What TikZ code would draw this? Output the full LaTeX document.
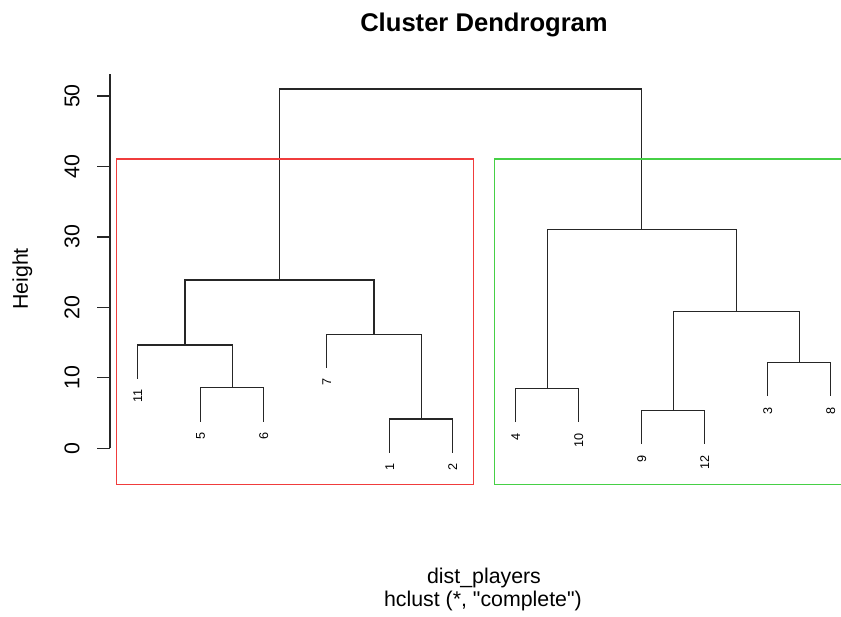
\documentclass[tikz,border=0pt]{standalone}
\usepackage{fontspec}
\setmainfont{Liberation Sans}[Ligatures=TeXOff]
\usepackage{xcolor}
\usepackage{tikz}
\usetikzlibrary{positioning}

\definecolor{boxred}{RGB}{240,60,60}
\definecolor{boxgreen}{RGB}{70,208,70}

\begin{document}
\begin{tikzpicture}[
    x=47.25pt, y=5.2845pt,
    link/.style={draw=black!85, line width=0.9pt},
    axisline/.style={draw=black!85, line width=0.9pt},
    leaf/.style={rotate=90, anchor=east, inner sep=1pt, font=\fontsize{9.5}{11}\selectfont},
    ticklab/.style={rotate=90, font=\fontsize{16}{19}\selectfont},
    lab/.style={anchor=base, font=\fontsize{16}{19}\selectfont},
    redbox/.style={draw=boxred, line width=1.1pt},
    greenbox/.style={draw=boxgreen, line width=1.1pt}
]
    \useasboundingbox (-1.1857,-23.801) rectangle (12.1635,63.625);

    % leaves: label / end height
    \foreach \lab/\h [count=\i] in {11/9.86, 5/3.8, 6/3.8, 7/11.4, 1/-0.64, 2/-0.64,
                                    4/3.7, 10/3.7, 9/0.6, 12/0.6, 3/7.4, 8/7.4} {
        \coordinate (l\lab) at (\i,\h);
        \node[leaf] (n\lab) at ([yshift=-7pt]l\lab) {\lab};
    }

    % merges
    \coordinate (c56)  at (2.5,8.6);
    \coordinate (c11)  at (1.75,14.66);
    \coordinate (c12)  at (5.5,4.16);
    \coordinate (c7)   at (4.75,16.2);
    \coordinate (cL)   at (3.25,23.9);
    \coordinate (c410) at (7.5,8.5);
    \coordinate (c912) at (9.5,5.4);
    \coordinate (c38)  at (11.5,12.2);
    \coordinate (c9)   at (10.5,19.4);
    \coordinate (cR)   at (9,31.1);
    \coordinate (root) at (6.125,51.0);

    \draw[link] (l5) |- (c56) -| (l6);
    \draw[link] (l11) |- (c11) -| (c56);
    \draw[link] (l1) |- (c12) -| (l2);
    \draw[link] (l7) |- (c7) -| (c12);
    \draw[link] (c11) |- (cL) -| (c7);
    \draw[link] (l4) |- (c410) -| (l10);
    \draw[link] (l9) |- (c912) -| (l12);
    \draw[link] (l3) |- (c38) -| (l8);
    \draw[link] (c912) |- (c9) -| (c38);
    \draw[link] (c410) |- (cR) -| (c9);
    \draw[link] (cL) |- (root) -| (cR);

    % cluster boxes
    \draw[redbox] (0.66,-5.17) rectangle (6.33,41.05);
    \draw[greenbox] (12.17,41.05) -- (6.66,41.05) -- (6.66,-5.17) -- (12.17,-5.17);

    % axis
    \draw[axisline] (0.56,0) -- (0.56,53.1);
    \foreach \v in {0,10,...,50} {
        \draw[axisline] (0.56,\v) -- (0.349,\v);
        \node[ticklab] (y\v) at (-0.043,\v) {\v};
    }

    \node[rotate=90, font=\fontsize{16}{19}\selectfont] (ylab) at (-0.829,24.03) {Height};
    \node[anchor=base, font=\bfseries\fontsize{19.2}{23}\selectfont] (title) at (6.497,59.13) {Cluster Dendrogram};
    \node[lab] (xlab) at (6.497,-19.12) {dist\_players};
    \node[lab] (sub) at (6.48,-22.48) {hclust (*, "complete")};
\end{tikzpicture}
\end{document}
